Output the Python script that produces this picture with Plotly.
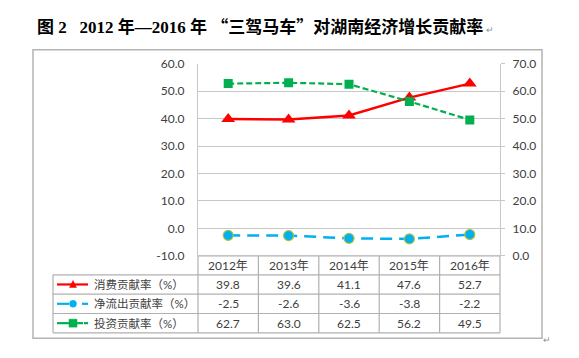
import plotly.graph_objects as go

W, H = 579, 358

years = ["2012年", "2013年", "2014年", "2015年", "2016年"]
consumption = [39.8, 39.6, 41.1, 47.6, 52.7]
net_export = [-2.5, -2.6, -3.6, -3.8, -2.2]
investment = [62.7, 63.0, 62.5, 56.2, 49.5]
series_names = ["消费贡献率（%）", "净流出贡献率（%）", "投资贡献率（%）"]
left_ticks = [-10, 0, 10, 20, 30, 40, 50, 60]
right_ticks = [0, 10, 20, 30, 40, 50, 60, 70]
title_parts = ["图 2   2012 年—2016 年 ", "“", "三驾马车", "”", "对湖南经济增长贡献率"]

RED = "#ff0000"
BLUE = "#00b0f0"
GREEN = "#00b050"
GRID = "#c8c8c8"
TXT = "#404040"
FONT = "Lato, Noto Sans CJK SC, sans-serif"
CJK = "Noto Sans CJK SC"

# the photographed page is slightly squeezed vertically; compensate
OFF_Y, SCALE_Y = 6.0, 0.966


def px(x):
    return x / W


def py(y):
    return 1 - ((y - OFF_Y) / SCALE_Y) / H


PL, PR, PT, PB = 198, 500, 62, 256

fig = go.Figure()
fig.add_trace(go.Scatter(
    x=years, y=consumption, name=series_names[0], mode="lines+markers",
    line=dict(color=RED, width=2.5),
    marker=dict(symbol="triangle-up", size=12, color=RED),
    yaxis="y"))
fig.add_trace(go.Scatter(
    x=years, y=net_export, name=series_names[1], mode="lines+markers",
    line=dict(color=BLUE, width=2.5, dash="12px,7px"),
    marker=dict(symbol="circle", size=10, color=BLUE, line=dict(color="#a9c23f", width=1.2)),
    yaxis="y"))
fig.add_trace(go.Scatter(
    x=years, y=investment, name=series_names[2], mode="lines+markers",
    line=dict(color=GREEN, width=2.2, dash="6px,3px"),
    marker=dict(symbol="square", size=9, color=GREEN),
    yaxis="y2"))

shapes = []
shapes.append(dict(type="rect", xref="paper", yref="paper", x0=px(33), x1=px(542), y0=py(48), y1=py(339),
                   line=dict(color="#b4b4b4", width=1.5), layer="below"))
LINE = dict(color="#b0b0b0", width=1.2)
col_x = [198, 258.4, 318.8, 379.2, 439.6, 500]
rows_y = [256, 275, 294.5, 314, 333.5]
shapes.append(dict(type="line", xref="paper", yref="paper", x0=px(198), x1=px(500), y0=py(256), y1=py(256), line=LINE))
for yy in rows_y[1:]:
    shapes.append(dict(type="line", xref="paper", yref="paper", x0=px(53), x1=px(500), y0=py(yy), y1=py(yy), line=LINE))
for xx in col_x:
    shapes.append(dict(type="line", xref="paper", yref="paper", x0=px(xx), x1=px(xx), y0=py(256), y1=py(333.5), line=LINE))
shapes.append(dict(type="line", xref="paper", yref="paper", x0=px(53), x1=px(53), y0=py(275), y1=py(333.5), line=LINE))

row_c = [(rows_y[i] + rows_y[i + 1]) / 2 for i in range(1, 4)]
y0 = row_c[0]
shapes.append(dict(type="line", xref="paper", yref="paper", x0=px(57), x1=px(88), y0=py(y0), y1=py(y0), line=dict(color=RED, width=2.2)))
shapes.append(dict(type="path", xref="paper", yref="paper",
                   path=f"M {px(69.5)} {py(y0+3)} L {px(76.5)} {py(y0+3)} L {px(73)} {py(y0-4)} Z",
                   fillcolor=RED, line=dict(color=RED, width=0.5)))
y1 = row_c[1]
shapes.append(dict(type="line", xref="paper", yref="paper", x0=px(57), x1=px(69), y0=py(y1), y1=py(y1), line=dict(color=BLUE, width=2.2)))
shapes.append(dict(type="line", xref="paper", yref="paper", x0=px(82), x1=px(88), y0=py(y1), y1=py(y1), line=dict(color=BLUE, width=2.2)))
shapes.append(dict(type="circle", xref="paper", yref="paper", x0=px(69.5), x1=px(76.5), y0=py(y1+3.5), y1=py(y1-3.5),
                   fillcolor=BLUE, line=dict(color=BLUE, width=0.5)))
y2 = row_c[2]
shapes.append(dict(type="line", xref="paper", yref="paper", x0=px(57), x1=px(64), y0=py(y2), y1=py(y2), line=dict(color=GREEN, width=2.2)))
shapes.append(dict(type="line", xref="paper", yref="paper", x0=px(64), x1=px(83), y0=py(y2), y1=py(y2), line=dict(color=GREEN, width=2.2)))
shapes.append(dict(type="line", xref="paper", yref="paper", x0=px(84), x1=px(88), y0=py(y2), y1=py(y2), line=dict(color=GREEN, width=2.2)))
shapes.append(dict(type="rect", xref="paper", yref="paper", x0=px(69), x1=px(77), y0=py(y2+4), y1=py(y2-4),
                   fillcolor=GREEN, line=dict(color=GREEN, width=0.5)))

title_html = (title_parts[0]
              + f"<span style='font-family:{CJK}'>{title_parts[1]}</span>"
              + title_parts[2]
              + f"<span style='font-family:{CJK}'>{title_parts[3]}</span>"
              + title_parts[4])

annotations = []
annotations.append(dict(text=f"<b>{title_html}</b>", x=px(35), y=py(24), xref="paper", yref="paper",
                        xanchor="left", yanchor="middle", showarrow=False,
                        font=dict(family="Liberation Serif, Noto Sans CJK SC, serif", size=17, color="#000000")))
annotations.append(dict(text="↵", x=px(484), y=py(28), xref="paper", yref="paper", xanchor="left", yanchor="middle",
                        showarrow=False, font=dict(size=9, color="#909090")))
annotations.append(dict(text="↵", x=px(541), y=py(340), xref="paper", yref="paper", xanchor="left", yanchor="middle",
                        showarrow=False, font=dict(size=9, color="#909090")))
for i, yr in enumerate(years):
    cx = (col_x[i] + col_x[i + 1]) / 2
    annotations.append(dict(text=yr, x=px(cx), y=py(266), xref="paper", yref="paper", showarrow=False,
                            xanchor="center", yanchor="middle", font=dict(family=FONT, size=12, color=TXT)))
for r, vals in enumerate([consumption, net_export, investment]):
    annotations.append(dict(text=series_names[r], x=px(92), y=py(row_c[r]), xref="paper", yref="paper",
                            showarrow=False, xanchor="left", yanchor="middle",
                            font=dict(family=FONT, size=11.5, color=TXT)))
    for i, v in enumerate(vals):
        cx = (col_x[i] + col_x[i + 1]) / 2
        annotations.append(dict(text=f"{v:.1f}", x=px(cx), y=py(row_c[r]), xref="paper", yref="paper",
                                showarrow=False, xanchor="center", yanchor="middle",
                                font=dict(family=FONT, size=12, color=TXT)))

fig.update_layout(
    width=W, height=H, margin=dict(l=0, r=0, t=0, b=0),
    paper_bgcolor="white", plot_bgcolor="white", showlegend=False,
    xaxis=dict(type="category", range=[-0.5, 4.5], domain=[px(PL), px(PR)], showticklabels=False,
               showgrid=False, showline=False, zeroline=False, ticks=""),
    yaxis=dict(range=[-10, 60], domain=[py(PB), py(PT)], tickvals=left_ticks,
               ticktext=[f"{v:.1f}" for v in left_ticks], showgrid=True, gridcolor=GRID, gridwidth=1.2,
               zeroline=False, showline=True, linecolor=GRID, linewidth=1.2, ticks="",
               ticklabelstandoff=10, tickfont=dict(family=FONT, size=12, color=TXT)),
    yaxis2=dict(range=[0, 70], overlaying="y", side="right", anchor="x", tickvals=right_ticks,
                ticktext=[f"{v:.1f}" for v in right_ticks], showgrid=False, zeroline=False,
                showline=True, linecolor=GRID, linewidth=1.2, ticks="outside", ticklen=4, tickcolor=GRID,
                ticklabelstandoff=5, tickfont=dict(family=FONT, size=12, color=TXT)),
    shapes=shapes, annotations=annotations,
)

post = (
    "document.documentElement.style.margin='0';document.documentElement.style.padding='0';"
    "document.documentElement.style.overflow='hidden';"
    "document.body.style.margin='0';document.body.style.padding='0';document.body.style.overflow='hidden';"
    "document.body.style.height='358px';document.documentElement.style.height='358px';"
    "var d=document.querySelector('.plotly-graph-div');d.style.position='fixed';d.style.top='0';d.style.left='0';"
)
fig.write_html("out.html", config={"displayModeBar": False}, post_script=post)
